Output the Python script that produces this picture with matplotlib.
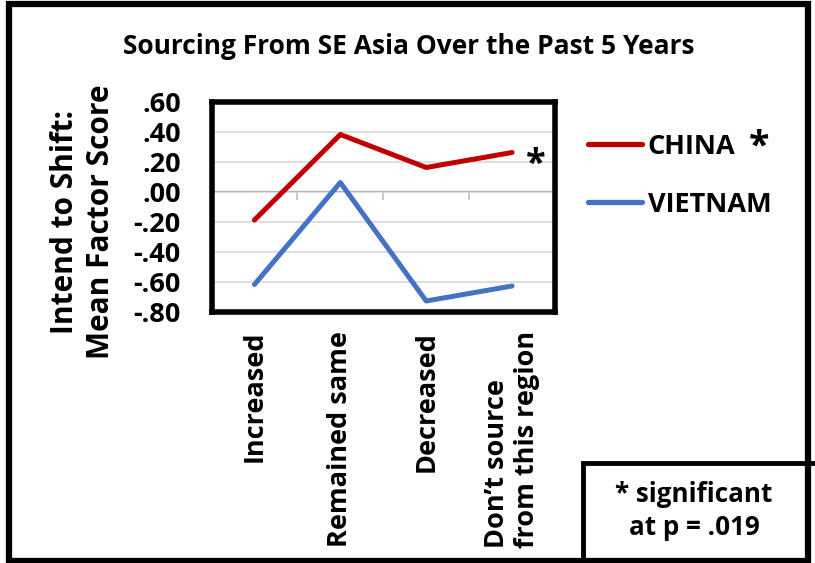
import matplotlib.pyplot as plt
from matplotlib.patches import Rectangle

# Mean factor scores by sourcing change
categories = ["Increased", "Remained same", "Decreased", "Don\u2019t source\nfrom this region"]
china = [-0.19, 0.38, 0.16, 0.26]
vietnam = [-0.62, 0.06, -0.73, -0.63]
y_ticks = [0.6, 0.4, 0.2, 0.0, -0.2, -0.4, -0.6, -0.8]

plt.rcParams['font.family'] = ['Open Sans', 'DejaVu Sans']
plt.rcParams['font.weight'] = 'bold'

red = '#C00000'
blue = '#4472C4'
fs = 19.5


def fmt(v):
    s = f"{v:.2f}".replace("0.", ".")
    return s


fig = plt.figure(figsize=(8.15, 5.63), dpi=100)
ax = fig.add_axes([211.5 / 815, 1 - 311.5 / 563, 343.5 / 815, 210 / 563])

x = list(range(len(categories)))
ax.plot(x, china, color=red, lw=3.6, solid_capstyle='round', label='CHINA', zorder=3)
ax.plot(x, vietnam, color=blue, lw=3.6, solid_capstyle='round', label='VIETNAM', zorder=3)

ax.set_xlim(-0.5, 3.5)
ax.set_ylim(-0.8, 0.6)
ax.set_yticks(y_ticks)
ax.set_yticklabels([fmt(v) for v in y_ticks], fontsize=fs, fontweight='bold')
ax.tick_params(axis='y', length=0, pad=22)
ax.yaxis.grid(True, color='#D9D9D9', lw=1.2)
ax.set_axisbelow(True)

ax.set_xticks(x)
ax.set_xticklabels(categories, rotation=90, fontsize=fs, fontweight='bold')
ax.tick_params(axis='x', length=0, pad=14)
for lbl in ax.get_xticklabels():
    lbl.set_multialignment('left')

for sp in ax.spines.values():
    sp.set_linewidth(4)
    sp.set_color('black')

# horizontal category axis crossing at zero
zero_pos = (0 - (-0.8)) / 1.4
sec = ax.secondary_xaxis(zero_pos)
sec.set_xticks([-0.5, 0.5, 1.5, 2.5, 3.5])
sec.set_xticklabels([])
sec.tick_params(direction='in', length=6.5, color='#BFBFBF', width=1.2)
sec.spines['bottom'].set_color('#BFBFBF')
sec.spines['bottom'].set_linewidth(1.2)

# significance marker at end of China line
ax.annotate('*', xy=(3, china[3]), xytext=(17, -9), textcoords='offset points',
            fontsize=26, fontweight='bold', ha='center', va='center')

ax.set_ylabel("Intend to Shift:\nMean Factor Score", fontsize=21.5, fontweight='bold',
              linespacing=1.25)
ax.yaxis.set_label_coords((116 - 211.5) / 343.5, (311.5 - 222) / 210)

fig.text(409 / 815, 1 - 47 / 563, "Sourcing From SE Asia Over the Past 5 Years",
         ha='center', va='center', fontsize=19, fontweight='bold')

leg = ax.legend(loc='upper left', bbox_to_anchor=(574 / 815, 1 - 120 / 563),
                bbox_transform=fig.transFigure, frameon=False, fontsize=fs,
                handlelength=2.0, handletextpad=0.22, labelspacing=1.18, borderpad=0)
for t in leg.get_texts():
    t.set_fontweight('bold')
for h in leg.legend_handles:
    h.set_linewidth(3.8)
fig.text(759 / 815, 1 - 148 / 563, '*', ha='center', va='center', fontsize=27, fontweight='bold')

# note box in the lower right corner
fig.patches.append(Rectangle((583 / 815, -0.05), 0.4, (563 - 463) / 563 + 0.05,
                             transform=fig.transFigure, facecolor='white',
                             edgecolor='black', lw=3.5, zorder=5))
fig.text(694 / 815, 1 - 511 / 563, "* significant\nat p = .019", ha='center', va='center',
         fontsize=18.7, fontweight='bold', linespacing=1.3, zorder=6)

# outer frame
fig.patches.append(Rectangle((9 / 815, 2 / 563), 799 / 815, 557 / 563,
                             transform=fig.transFigure, fill=False,
                             edgecolor='black', lw=4.5, zorder=7))

fig.savefig('out.png', dpi=100)
